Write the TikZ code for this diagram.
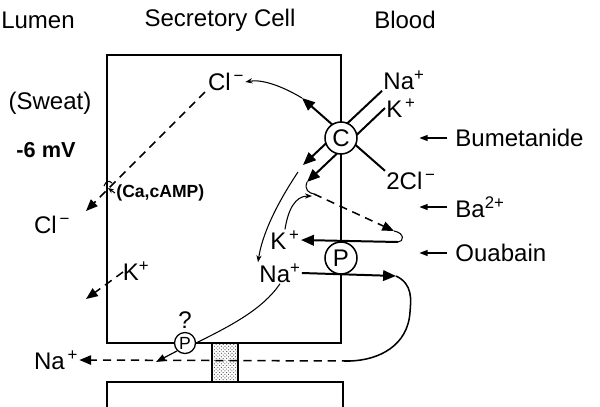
\documentclass[tikz,border=0pt]{standalone}
\usepackage{fontspec}
\setmainfont{Liberation Sans}
\usetikzlibrary{arrows.meta,patterns}

\begin{document}
\begin{tikzpicture}[x=0.3mm,y=-0.3mm,
    txt/.style={font=\fontsize{20.5}{24}\selectfont,inner sep=1pt},
    boldtxt/.style={font=\fontsize{15}{18}\selectfont\bfseries,inner sep=1pt},
    wall/.style={line width=1.7pt},
    pump/.style={circle,draw,line width=1.3pt,fill=white,minimum size=9.6mm,
        inner sep=0pt,font=\fontsize{20.5}{24}\selectfont},
    thickarr/.style={line width=1.7pt,-{Triangle[length=11pt,width=9pt]}},
    thinarr/.style={line width=0.9pt,-{Stealth[length=6pt,width=4.5pt]}},
    dasharr/.style={line width=1.3pt,dash pattern=on 7pt off 5pt,
        -{Triangle[length=10pt,width=8pt]}},
    inharr/.style={line width=1.2pt,-{Triangle[length=7pt,width=5pt]}}]
    \useasboundingbox (0,0) rectangle (600,406);

    % headings and side labels
    \node[txt] (lumen) at (38,20) {Lumen};
    \node[txt] (cell) at (220,20) {Secretory Cell};
    \node[txt] (blood) at (405,20) {Blood};
    \node[txt] (sweat) at (50,103) {(Sweat)};
    \node[boldtxt,font=\fontsize{18.5}{22}\selectfont\bfseries] (mv) at (46,150) {-6 mV};

    % cell walls and junction
    \coordinate (tl) at (107,55);
    \coordinate (tr) at (341,55);
    \coordinate (br) at (341,343);
    \coordinate (bl) at (107,343);
    \draw[wall] (bl) -- (tl) -- (tr) -- (br) -- cycle;
    \draw[line width=1pt,pattern=crosshatch dots,pattern color=black!70]
        (212,343) rectangle (238,382);
    \draw[wall] (107,410) -- (107,382) -- (343,382) -- (343,410);

    % ion labels
    \node[txt] (na1) at (404,80) {Na\textsuperscript{+}};
    \node[txt] (k1) at (401,108) {K\textsuperscript{\,+}};
    \node[txt] (cl2) at (411,181) {2Cl\textsuperscript{\,−}};
    \node[txt] (cl3) at (226,82) {Cl\textsuperscript{\,−}};
    \node[txt] (clL) at (52,225) {Cl\textsuperscript{\,−}};
    \node[txt] (kL) at (136,271) {K\textsuperscript{+}};
    \node[txt] (k2) at (285,240) {K\textsuperscript{\,+}};
    \node[txt] (na2) at (280,273) {Na\textsuperscript{+}};
    \node[txt] (naL) at (56,360) {Na\textsuperscript{\,+}};

    % co-transporter spokes
    \coordinate (natip) at (303,165);
    \coordinate (ktip) at (307,182);
    \coordinate (cltip) at (302,98);
    \draw[thickarr] (na1.south west) -- (natip);
    \draw[thickarr] (k1.west) -- (ktip);
    \draw[thickarr] (cl2.north west) -- (cltip);

    % pumps
    \node[pump] (C) at (341,138) {C};
    \node[pump] (P) at (341,258) {P};
    \node[pump,minimum size=6.3mm,line width=1.1pt,
        font=\fontsize{15}{17}\selectfont] (Pq) at (185,343) {P};
    \node[txt] (q) at (185,320) {?};

    % K+ and Na+ through the pump
    \coordinate (kstart) at (398,242);
    \coordinate (naend) at (396,276);
    \draw[thickarr] (kstart) -- (k2.east);
    \draw[thickarr] (na2.east) -- (naend);

    % thin curved paths inside the cell
    \draw[thinarr] (cltip) .. controls (282,86) and (262,79) .. (cl3.east);
    \draw[thinarr] (298,172) .. controls (276,205) and (262,235) .. (na2.north west);
    \draw[thinarr] (k2.north) .. controls (288,210) and (295,196) .. (312,196);
    \draw[line width=0.9pt] (ktip) .. controls (304,190) and (309,193) .. (314,194);
    \draw[dasharr] (314,194) -- (394,231);
    \draw[line width=0.9pt] (394,231) .. controls (405,233) and (404,242) .. (kstart);
    \draw[line width=0.9pt] (na2.south) .. controls (262,310) and (230,326) .. (Pq.east);
    \draw[line width=1pt,-{Triangle[length=8pt,width=6pt]}] (Pq.south west) -- (156,362);

    % Na+ recycling to the lumen
    \draw[line width=1.3pt] (naend) .. controls (413,284) and (411,300) .. (410,312)
        .. controls (408,345) and (380,360) .. (350,361);
    \draw[dasharr] (350,361) -- (naL.east);

    % apical exits
    \draw[dasharr] (205,92) -- (86,211);
    \node[boldtxt,anchor=west] (ca) at (115,193) {(Ca,cAMP)};
    \draw[line width=0.9pt,-{Stealth[length=5pt,width=4pt]}] (ca.west) -- (108,188);
    \draw[line width=0.9pt] (104,186) .. controls (106,181) and (109,180) .. (112,183);
    \draw[dasharr] (123,272) -- (86,299);

    % inhibitors
    \foreach \y/\t [count=\i] in {138/Bumetanide,207/Ba\textsuperscript{2+},253/Ouabain}{%
        \node[txt,anchor=west] (inh\i) at (454,\y) {\t};
        \draw[inharr] ([xshift=-2mm]inh\i.west) -- ++(-28,0);
    }
\end{tikzpicture}
\end{document}
